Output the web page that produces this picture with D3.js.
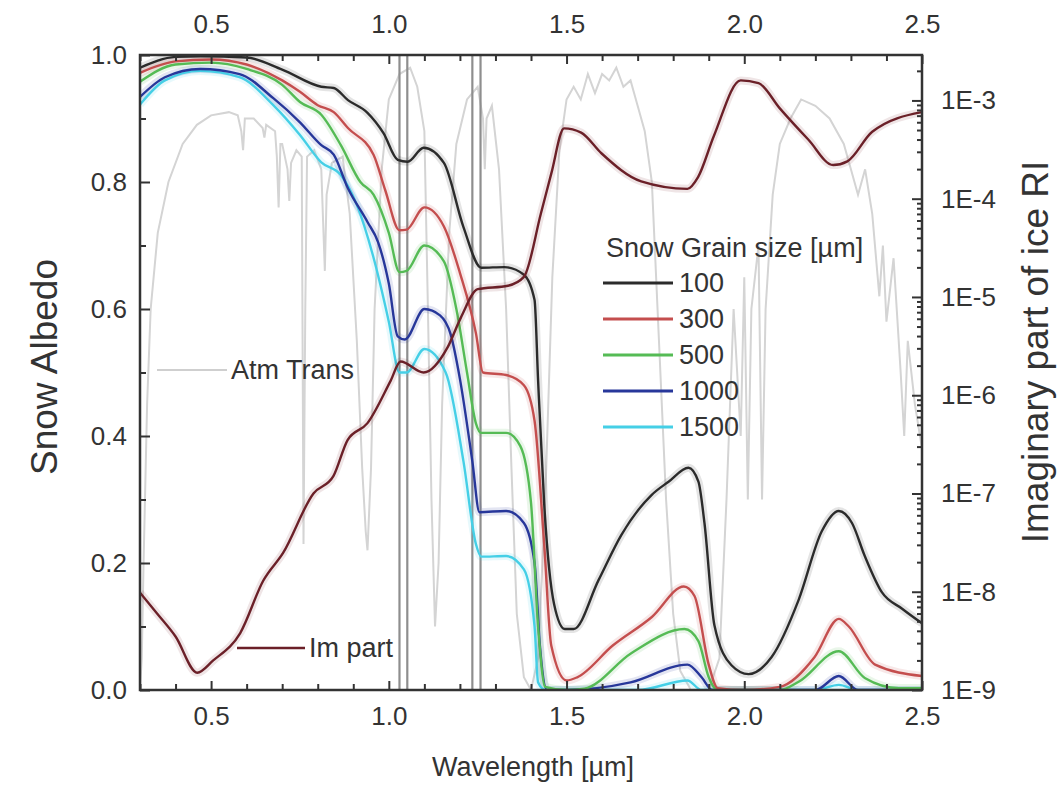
<!DOCTYPE html>
<html><head><meta charset="utf-8">
<script src="https://cdn.jsdelivr.net/npm/d3@7"></script>
<style>
body{margin:0;background:#fff}
text{font-family:"Liberation Sans",Arial,sans-serif;fill:#333}
</style>
</head><body>
<svg id="chart" width="1057" height="785"></svg>
<script>
// ---------------- data ----------------
const grainSizes = ["100", "300", "500", "1000", "1500"];
const seriesColors = ["#2b2b2b", "#c44e4e", "#55bb55", "#27379a", "#45cfe6"];

const wl100 = [0.30,0.40,0.47,0.60,0.70,0.81,0.845,0.885,0.94,0.985,1.025,1.053,1.098,1.155,1.21,1.26,1.325,1.38,1.41,1.42,1.437,1.465,1.495,1.52,1.59,1.654,1.739,1.787,1.843,1.871,1.888,1.916,1.964,2.012,2.077,2.153,2.218,2.266,2.303,2.339,2.387,2.444,2.5];
const alb100 = [0.98,0.997,0.998,0.996,0.977,0.95,0.948,0.929,0.909,0.877,0.835,0.832,0.854,0.83,0.729,0.665,0.666,0.654,0.614,0.487,0.294,0.135,0.096,0.096,0.173,0.244,0.307,0.328,0.35,0.328,0.263,0.102,0.039,0.025,0.052,0.142,0.25,0.282,0.263,0.211,0.154,0.128,0.105];

const wl300 = [0.30,0.40,0.50,0.60,0.70,0.75,0.80,0.845,0.885,0.957,0.99,1.03,1.05,1.10,1.155,1.20,1.245,1.265,1.33,1.38,1.41,1.437,1.457,1.50,1.53,1.63,1.74,1.83,1.86,1.90,1.925,2.0,2.10,2.198,2.266,2.294,2.368,2.5];
const alb300 = [0.972,0.99,0.993,0.985,0.96,0.942,0.921,0.91,0.885,0.843,0.787,0.724,0.725,0.76,0.73,0.657,0.562,0.50,0.496,0.48,0.424,0.23,0.07,0.015,0.02,0.07,0.115,0.163,0.148,0.04,0.003,0.0,0.005,0.052,0.112,0.10,0.04,0.022];

const wl500 = [0.30,0.40,0.50,0.60,0.70,0.75,0.81,0.865,0.92,0.957,1.0,1.03,1.05,1.10,1.155,1.19,1.22,1.245,1.26,1.33,1.37,1.40,1.42,1.44,1.50,1.55,1.682,1.832,1.871,1.90,1.925,2.10,2.153,2.266,2.339,2.435,2.5];
const alb500 = [0.958,0.985,0.988,0.978,0.953,0.926,0.906,0.858,0.80,0.78,0.72,0.658,0.66,0.70,0.675,0.60,0.50,0.42,0.405,0.405,0.384,0.295,0.10,0.005,0.0,0.002,0.058,0.096,0.077,0.02,0.0,0.0,0.013,0.061,0.019,0.003,0.003];

const wl1000 = [0.30,0.37,0.47,0.58,0.675,0.75,0.81,0.845,0.885,0.94,0.97,1.0,1.025,1.045,1.10,1.144,1.174,1.20,1.235,1.255,1.33,1.38,1.41,1.425,1.445,1.50,1.68,1.84,1.88,1.91,2.20,2.266,2.32,2.5];
const alb1000 = [0.934,0.965,0.978,0.97,0.932,0.894,0.858,0.843,0.79,0.737,0.705,0.64,0.557,0.552,0.60,0.59,0.56,0.49,0.36,0.28,0.282,0.263,0.20,0.07,0.0,0.0,0.012,0.04,0.02,0.0,0.0,0.022,0.0,0.0];

const wl1500 = [0.30,0.37,0.47,0.58,0.675,0.75,0.81,0.865,0.91,0.955,1.0,1.03,1.05,1.10,1.16,1.21,1.245,1.26,1.33,1.38,1.41,1.42,1.44,1.70,1.84,1.88,2.2,2.266,2.32,2.5];
const alb1500 = [0.922,0.96,0.975,0.965,0.921,0.874,0.831,0.811,0.764,0.685,0.58,0.50,0.50,0.537,0.50,0.36,0.23,0.21,0.211,0.19,0.10,0.012,0.0,0.0,0.015,0.0,0.0,0.008,0.0,0.0];

// imaginary part of ice refractive index (right, log axis)
const wlIm = [0.30,0.348,0.40,0.461,0.506,0.582,0.647,0.703,0.788,0.844,0.884,0.94,1.005,1.033,1.098,1.166,1.203,1.25,1.335,1.38,1.428,1.457,1.493,1.541,1.598,1.71,1.84,1.87,1.915,1.99,2.04,2.10,2.18,2.25,2.29,2.36,2.5];
const imPart = [9.8e-9,6.0e-9,3.5e-9,1.5e-9,2.0e-9,3.8e-9,1.3e-8,2.5e-8,1.0e-7,1.5e-7,3.5e-7,5.2e-7,1.4e-6,2.2e-6,1.7e-6,3.1e-6,6.2e-6,1.2e-5,1.3e-5,1.6e-5,7.1e-5,1.8e-4,5.2e-4,4.7e-4,2.9e-4,1.5e-4,1.26e-4,1.66e-4,4.4e-4,1.6e-3,1.5e-3,8.3e-4,4.0e-4,2.2e-4,2.4e-4,4.8e-4,7.6e-4];

// atmospheric transmission (left axis)
const wlAtm = [0.300,0.305,0.31,0.32,0.33,0.35,0.38,0.42,0.46,0.50,0.55,0.575,0.585,0.59,0.595,0.62,0.645,0.65,0.655,0.68,0.685,0.69,0.695,0.70,0.715,0.72,0.725,0.74,0.755,0.76,0.765,0.77,0.79,0.81,0.815,0.82,0.825,0.84,0.87,0.89,0.91,0.925,0.935,0.94,0.95,0.96,0.98,1.0,1.03,1.06,1.08,1.10,1.11,1.12,1.13,1.14,1.15,1.17,1.19,1.22,1.25,1.265,1.27,1.275,1.29,1.31,1.33,1.345,1.36,1.38,1.40,1.42,1.44,1.46,1.48,1.50,1.52,1.54,1.56,1.58,1.60,1.62,1.64,1.66,1.68,1.70,1.72,1.74,1.76,1.78,1.80,1.82,1.85,1.90,1.93,1.95,1.97,1.99,2.0,2.01,2.02,2.04,2.05,2.06,2.08,2.1,2.13,2.16,2.2,2.24,2.28,2.3,2.32,2.34,2.36,2.38,2.39,2.4,2.42,2.44,2.45,2.46,2.48,2.5];
const atmTrans = [0.0,0.05,0.2,0.45,0.6,0.72,0.8,0.86,0.89,0.905,0.91,0.905,0.88,0.85,0.9,0.9,0.885,0.87,0.89,0.88,0.84,0.76,0.86,0.86,0.82,0.77,0.83,0.85,0.84,0.23,0.6,0.84,0.85,0.82,0.74,0.66,0.78,0.83,0.84,0.75,0.55,0.35,0.25,0.22,0.35,0.6,0.82,0.93,0.97,0.98,0.95,0.88,0.6,0.3,0.1,0.2,0.45,0.72,0.86,0.93,0.95,0.9,0.82,0.9,0.92,0.82,0.6,0.35,0.12,0.02,0.0,0.05,0.3,0.65,0.85,0.93,0.95,0.93,0.97,0.94,0.97,0.96,0.98,0.95,0.96,0.92,0.88,0.8,0.55,0.3,0.12,0.03,0.0,0.0,0.05,0.3,0.6,0.4,0.65,0.3,0.6,0.7,0.3,0.6,0.78,0.86,0.9,0.93,0.92,0.9,0.86,0.82,0.78,0.82,0.75,0.62,0.7,0.58,0.68,0.5,0.4,0.55,0.45,0.38];

// marked bands (double vertical lines)
const bandLines = [1.03, 1.052, 1.235, 1.258];

// axis ticks
const xMajorTicks = [0.5, 1.0, 1.5, 2.0, 2.5];
const yMajorTicks = [0.0, 0.2, 0.4, 0.6, 0.8, 1.0];
const rightMajorTicks = [1e-9, 1e-8, 1e-7, 1e-6, 1e-5, 1e-4, 1e-3];
const rightTickLabels = ["1E-9", "1E-8", "1E-7", "1E-6", "1E-5", "1E-4", "1E-3"];

// ---------------- chart ----------------
const L = 140, R = 922, T = 55, B = 690;
const svg = d3.select("#chart");
const x = d3.scaleLinear().domain([0.3, 2.5]).range([L, R]);
const y = d3.scaleLinear().domain([0, 1]).range([B, T]);
const yr = d3.scaleLog().domain([1e-9, 2.9e-3]).range([B, T]);

svg.append("defs").append("clipPath").attr("id", "plotclip")
  .append("rect").attr("x", L).attr("y", T).attr("width", R - L).attr("height", B - T);

const plot = svg.append("g").attr("clip-path", "url(#plotclip)");

// atmospheric transmission
const atmData = wlAtm.map((w, i) => [w, atmTrans[i]]);
plot.append("path").datum(atmData)
  .attr("fill", "none").attr("stroke", "#d4d4d4").attr("stroke-width", 2)
  .attr("d", d3.line().x(d => x(d[0])).y(d => y(d[1])));

// band lines
plot.selectAll("line.band").data(bandLines).enter().append("line")
  .attr("x1", d => x(d)).attr("x2", d => x(d)).attr("y1", T).attr("y2", B)
  .attr("stroke", "#8e8e8e").attr("stroke-width", 2.2);

// snow albedo series
const wls = [wl100, wl300, wl500, wl1000, wl1500];
const albs = [alb100, alb300, alb500, alb1000, alb1500];
const albLine = d3.line().x(d => x(d[0])).y(d => y(d[1])).curve(d3.curveMonotoneX);
const seriesData = wls.map((w, k) => w.map((v, i) => [v, albs[k][i]]));
const order = [4, 3, 2, 1, 0];
order.forEach(k => {
  plot.append("path").datum(seriesData[k]).attr("fill", "none")
    .attr("stroke", seriesColors[k]).attr("stroke-opacity", 0.13).attr("stroke-width", 8)
    .attr("d", albLine);
});
order.forEach(k => {
  plot.append("path").datum(seriesData[k]).attr("fill", "none")
    .attr("stroke", seriesColors[k]).attr("stroke-width", 2.4)
    .attr("d", albLine);
});

// imaginary part
const imData = wlIm.map((w, i) => [w, imPart[i]]);
const imLine = d3.line().x(d => x(d[0])).y(d => yr(d[1])).curve(d3.curveMonotoneX);
plot.append("path").datum(imData).attr("fill", "none")
  .attr("stroke", "#7a2a30").attr("stroke-opacity", 0.12).attr("stroke-width", 8).attr("d", imLine);
plot.append("path").datum(imData).attr("fill", "none")
  .attr("stroke", "#6b2028").attr("stroke-width", 2.4).attr("d", imLine);

// ---------------- axes ----------------
const fmt = d3.format(".1f");
const xMinor = d3.range(3, 26).map(v => v / 10).filter(v => !xMajorTicks.some(m => Math.abs(m - v) < 1e-9));
const yMinor = [0.1, 0.3, 0.5, 0.7, 0.9];

function styleAxis(g) {
  g.select(".domain").remove();
  g.selectAll(".tick line").attr("stroke", "#333").attr("stroke-width", 2);
  g.selectAll(".tick text").attr("font-size", 26).attr("fill", "#333")
    .style("font-family", '"Liberation Sans", Arial, sans-serif');
}

// bottom
svg.append("g").attr("transform", `translate(0,${B})`)
  .call(d3.axisBottom(x).tickValues(xMinor).tickSizeInner(-6).tickSizeOuter(0).tickFormat(""))
  .call(styleAxis);
svg.append("g").attr("transform", `translate(0,${B})`)
  .call(d3.axisBottom(x).tickValues(xMajorTicks).tickSizeInner(-9).tickSizeOuter(0).tickPadding(17).tickFormat(fmt))
  .call(styleAxis);
// top
svg.append("g").attr("transform", `translate(0,${T})`)
  .call(d3.axisTop(x).tickValues(xMinor).tickSizeInner(-6).tickSizeOuter(0).tickFormat(""))
  .call(styleAxis);
svg.append("g").attr("transform", `translate(0,${T})`)
  .call(d3.axisTop(x).tickValues(xMajorTicks).tickSizeInner(-9).tickSizeOuter(0).tickPadding(22).tickFormat(fmt))
  .call(styleAxis);
// left
svg.append("g").attr("transform", `translate(${L},0)`)
  .call(d3.axisLeft(y).tickValues(yMinor).tickSizeInner(-6).tickSizeOuter(0).tickFormat(""))
  .call(styleAxis);
svg.append("g").attr("transform", `translate(${L},0)`)
  .call(d3.axisLeft(y).tickValues(yMajorTicks).tickSizeInner(-10).tickSizeOuter(0).tickPadding(13).tickFormat(fmt))
  .call(styleAxis);
// right (log)
const rightMinor = yr.ticks().filter(v => !rightMajorTicks.some(m => Math.abs(Math.log10(m) - Math.log10(v)) < 1e-6));
svg.append("g").attr("transform", `translate(${R},0)`)
  .call(d3.axisRight(yr).tickValues(rightMinor).tickSizeInner(-5).tickSizeOuter(0).tickFormat(""))
  .call(styleAxis);
svg.append("g").attr("transform", `translate(${R},0)`)
  .call(d3.axisRight(yr).tickValues(rightMajorTicks).tickSizeInner(-10).tickSizeOuter(0).tickPadding(19)
    .tickFormat((d, i) => rightTickLabels[i]))
  .call(styleAxis);

// frame
svg.append("rect").attr("x", L).attr("y", T).attr("width", R - L).attr("height", B - T)
  .attr("fill", "none").attr("stroke", "#333").attr("stroke-width", 2.5);

// axis titles
svg.append("text").attr("transform", "translate(44,367) rotate(-90)")
  .attr("text-anchor", "middle").attr("dy", "0.35em").attr("font-size", 37).text("Snow Albedo");
svg.append("text").attr("transform", "translate(1035,352) rotate(-90)")
  .attr("text-anchor", "middle").attr("dy", "0.35em").attr("font-size", 37).text("Imaginary part of ice RI");
svg.append("text").attr("x", 533).attr("y", 776)
  .attr("text-anchor", "middle").attr("font-size", 27).text("Wavelength [µm]");

// legend: grain sizes
const lg = svg.append("g");
lg.append("text").attr("x", 606).attr("y", 257).attr("font-size", 27).text("Snow Grain size [µm]");
const legendY = [283, 319, 355, 391, 427];
grainSizes.forEach((g, i) => {
  lg.append("line").attr("x1", 603).attr("x2", 673).attr("y1", legendY[i]).attr("y2", legendY[i])
    .attr("stroke", seriesColors[i]).attr("stroke-width", 3);
  lg.append("text").attr("x", 679).attr("y", legendY[i]).attr("dy", "0.35em")
    .attr("font-size", 27).text(g);
});

// inline labels
svg.append("line").attr("x1", 157).attr("x2", 227).attr("y1", 370).attr("y2", 370)
  .attr("stroke", "#cfcfcf").attr("stroke-width", 2);
svg.append("text").attr("x", 231).attr("y", 370).attr("dy", "0.35em").attr("font-size", 27).text("Atm Trans");
svg.append("line").attr("x1", 237).attr("x2", 305).attr("y1", 648).attr("y2", 648)
  .attr("stroke", "#6b2028").attr("stroke-width", 2.4);
svg.append("text").attr("x", 309).attr("y", 648).attr("dy", "0.35em").attr("font-size", 27).text("Im part");
</script>
</body></html>
